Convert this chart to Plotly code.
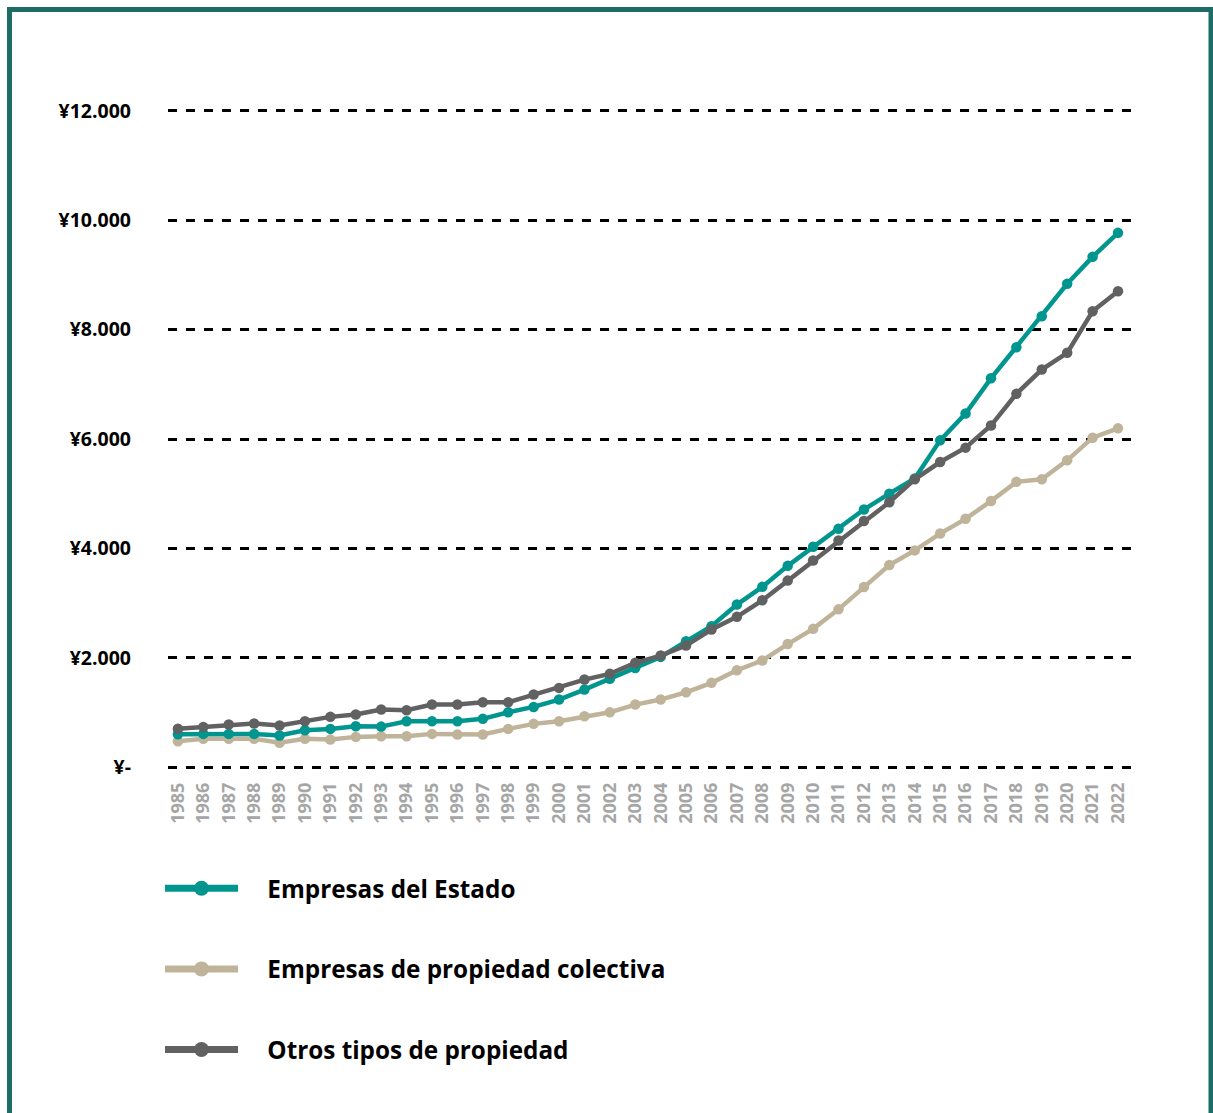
import plotly.graph_objects as go

years = list(range(1985, 2023))

empresas_estado = [600, 607, 607, 607, 576, 673, 698, 746, 740, 838, 838, 838, 882, 1002,
                   1100, 1235, 1417, 1613, 1810, 2015, 2300, 2575, 2972, 3296, 3680, 4030,
                   4360, 4710, 5000, 5277, 5975, 6466, 7110, 7678, 8245, 8838, 9331, 9770]
propiedad_colectiva = [472, 516, 516, 516, 443, 516, 503, 552, 564, 564, 607, 595, 595, 698,
                       790, 838, 929, 1002, 1143, 1235, 1368, 1540, 1771, 1948, 2250, 2528,
                       2884, 3292, 3695, 3963, 4271, 4540, 4865, 5216, 5262, 5610, 6024, 6195]
otros_tipos = [702, 735, 777, 796, 759, 838, 918, 960, 1052, 1040, 1143, 1143, 1185, 1185,
               1326, 1448, 1600, 1705, 1906, 2039, 2222, 2515, 2747, 3050, 3410, 3777,
               4143, 4499, 4843, 5262, 5579, 5842, 6246, 6826, 7270, 7576, 8337, 8702]

series_names = ["Empresas del Estado", "Empresas de propiedad colectiva", "Otros tipos de propiedad"]
y_tickvals = [0, 2000, 4000, 6000, 8000, 10000, 12000]
y_ticktext = ["¥-", "¥2.000", "¥4.000", "¥6.000", "¥8.000", "¥10.000", "¥12.000"]

TEAL = "#00968F"
BEIGE = "#BFB39A"
GRAY = "#616161"
BORDER = "#1F6B65"

fig = go.Figure()

# drawn series (order for overlap)
for name, vals, col in [(series_names[1], propiedad_colectiva, BEIGE),
                        (series_names[0], empresas_estado, TEAL),
                        (series_names[2], otros_tipos, GRAY)]:
    fig.add_trace(go.Scatter(x=years, y=vals, mode="lines+markers", name=name,
                             line=dict(color=col, width=4.5),
                             marker=dict(color=col, size=10.5),
                             showlegend=False))

# legend entries
for i, (name, col) in enumerate([(series_names[0], TEAL), (series_names[1], BEIGE),
                                 (series_names[2], GRAY)]):
    fig.add_trace(go.Scatter(x=[None], y=[None], mode="lines+markers",
                             name="\u2002\u2002" + name,
                             line=dict(color=col, width=7),
                             marker=dict(color=col, size=15),
                             legendgroup=f"g{i}", showlegend=True))

W, H = 1213, 1113
L, R, T, B = 168, 80, 100, 335
pw, ph = W - L - R, H - T - B

def px_x(p):
    return (p - L) / pw

def px_y(p):
    return (H - B - p) / ph

fig.add_shape(type="rect", xref="paper", yref="paper",
              x0=px_x(9.5), x1=px_x(1211), y0=px_y(9.5), y1=px_y(1130),
              line=dict(color=BORDER, width=5), fillcolor="rgba(0,0,0,0)", layer="below")

fig.update_layout(
    width=W, height=H,
    margin=dict(l=L, r=R, t=T, b=B, autoexpand=False),
    paper_bgcolor="white", plot_bgcolor="white",
    font=dict(family="Open Sans", color="black"),
    xaxis=dict(range=[1984.61, 2022.59], tickvals=years, ticktext=[str(y) for y in years],
               tickangle=-90, showgrid=False, zeroline=False, showline=False,
               ticklabelstandoff=0,
               tickfont=dict(family="Open Sans", size=18, color="#A6A6A6", weight="bold")),
    yaxis=dict(range=[-200, 12200], tickvals=y_tickvals, ticktext=y_ticktext,
               showgrid=True, gridcolor="black", gridwidth=2.5, griddash="9px,9px",
               zeroline=False, showline=False, ticklabelstandoff=36,
               tickfont=dict(family="Open Sans", size=19.5, color="black", weight="bold")),
    legend=dict(orientation="v", xref="container", yref="container",
                x=160 / W, y=1 - 866 / H, xanchor="left", yanchor="top",
                itemwidth=73, tracegroupgap=46, traceorder="grouped",
                font=dict(family="Open Sans", size=24.3, color="black", weight="bold"),
                bgcolor="rgba(0,0,0,0)"),
)

fig.write_html("out.html")
